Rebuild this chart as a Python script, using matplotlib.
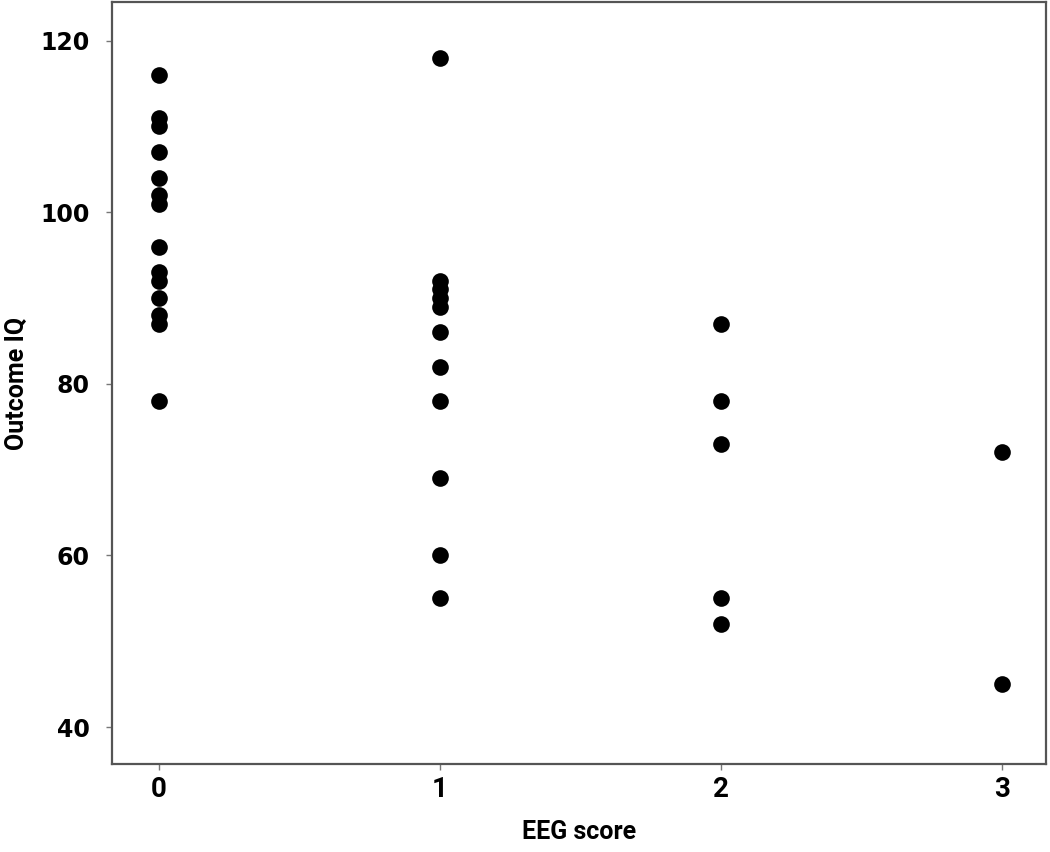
import matplotlib.pyplot as plt
import numpy as np

# EEG score groups and the outcome IQ
eeg_0 = [116, 111, 110, 107, 104, 102, 101, 96, 93, 92, 90, 88, 87, 78]
eeg_1 = [118, 92, 91, 90, 89, 86, 82, 78, 69, 60, 55]
eeg_2 = [87, 78, 73, 55, 52]
eeg_3 = [72, 45]

groups = [eeg_0, eeg_1, eeg_2, eeg_3]
x_ticks = [0, 1, 2, 3]
y_ticks = [40, 60, 80, 100, 120]

label_font = ['Liberation Sans Narrow', 'Roboto', 'DejaVu Sans']

fig = plt.figure(figsize=(10.5, 8.52), dpi=100)
ax = fig.add_axes([0.1067, 0.1033, 0.8893, 0.8944])

for score, iq in zip(x_ticks, groups):
    ax.plot([score] * len(iq), iq, 'o', color='black', markersize=12,
            markeredgewidth=0, linestyle='none')

ax.set_xlim(-0.167, 3.157)
ax.set_ylim(35.7, 124.5)
ax.set_xticks(x_ticks)
ax.set_yticks(y_ticks)

for s in ax.spines.values():
    s.set_color('#555555')
    s.set_linewidth(1.6)
ax.tick_params(direction='out', length=4, width=1, color='#777777')
ax.tick_params(axis='y', pad=12)
ax.tick_params(axis='x', pad=5)

for lab in ax.get_yticklabels():
    lab.set_fontfamily('DejaVu Sans')
    lab.set_fontweight('bold')
    lab.set_fontsize(17)
for lab in ax.get_xticklabels():
    lab.set_fontfamily(label_font)
    lab.set_fontweight('bold')
    lab.set_fontsize(20)

ax.set_xlabel('EEG score', fontfamily=label_font, fontweight='bold', fontsize=18, labelpad=12)
ax.set_ylabel('Outcome IQ', fontfamily=label_font, fontweight='bold', fontsize=18, labelpad=8)

fig.savefig('out.png', dpi=100, facecolor='white')
